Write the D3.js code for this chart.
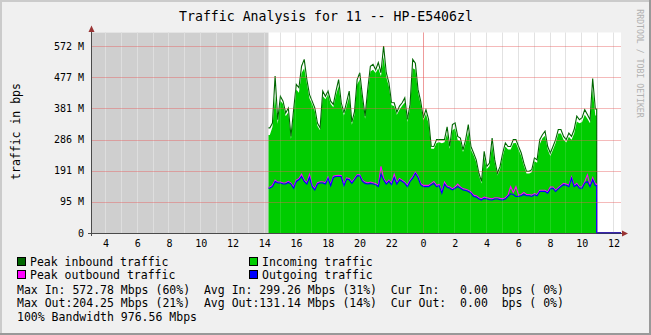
<!DOCTYPE html>
<html><head><meta charset="utf-8">
<script src="https://cdn.jsdelivr.net/npm/d3@7"></script>
<style>
html,body{margin:0;padding:0;background:#f0f0f0;}
svg{display:block;}
text{font-family:"DejaVu Sans Mono",monospace;fill:#000;}
</style></head><body>
<svg id="c" width="651" height="335"></svg>
<script>
// ---------- data ----------
const title = "Traffic Analysis for 11 -- HP-E5406zl";
const yAxisTitle = "traffic in bps";
const watermark = "RRDTOOL / TOBI OETIKER";
const viewStart = new Date(2020, 0, 1, 3, 10);
const viewEnd = new Date(2020, 0, 2, 12, 30);
const dataStart = new Date(2020, 0, 1, 14, 18);
const stepMinutes = 10;

// values in Mbps; last entry is the current sample
const peakIn = [322,337,481,347,419,404,368,383,296,378,
455,445,511,532,470,424,404,383,337,322,
435,419,435,404,394,435,470,399,368,400,
435,340,372,470,491,420,358,440,511,517,
500,522,491,573,491,460,400,399,370,389,
399,414,348,394,532,520,440,404,353,378,
348,266,265,286,286,286,286,325,265,332,
337,296,291,255,286,332,265,245,224,183,
158,250,204,214,291,224,183,204,245,276,
265,265,286,286,265,245,214,189,189,194,
230,224,286,301,312,265,245,265,286,317,
317,296,286,306,296,317,358,347,353,378,
363,347,473,380,0];
const inTraffic = [300,325,420,335,405,395,358,370,288,365,
440,430,490,505,458,412,395,372,328,315,
420,410,425,395,385,422,450,390,360,388,
418,332,362,455,470,410,350,428,495,500,
490,505,480,540,478,448,392,388,362,378,
390,400,340,382,505,500,430,395,345,365,
335,258,258,276,278,275,278,305,258,315,
320,285,282,248,275,310,255,238,216,176,
152,232,196,205,270,215,176,196,235,265,
256,256,275,276,256,236,206,182,182,187,
220,215,272,290,298,256,236,255,276,305,
305,286,277,295,286,305,342,336,340,362,
350,336,440,360,0];
const peakOut = [140,146,162,156,156,153,154,158,153,141,
162,167,180,162,154,180,146,136,154,157,
157,154,172,149,174,176,177,176,149,169,
167,156,167,178,178,162,156,154,156,154,
152,146,204,168,154,162,152,180,154,167,
162,156,146,162,172,186,174,152,146,146,
146,152,158,146,149,126,156,144,141,136,
141,150,141,136,134,131,126,116,114,108,
105,110,108,106,105,108,108,106,105,108,
116,142,124,142,116,118,124,118,118,116,
121,118,131,131,131,126,141,141,131,139,
146,152,150,146,172,146,152,141,141,157,
178,146,170,150,0];
const outTraffic = [137,142,158,153,153,150,150,155,150,137,
158,163,173,158,150,170,142,132,150,153,
153,150,168,145,170,173,173,173,145,165,
163,152,163,175,175,158,152,150,152,150,
148,142,180,163,150,158,148,170,150,163,
158,152,142,158,168,183,170,148,142,142,
142,148,152,142,145,122,150,140,137,132,
137,142,137,132,130,127,122,112,110,104,
101,106,104,102,101,104,104,102,101,104,
112,120,118,112,112,114,118,114,114,112,
117,114,127,127,127,122,135,137,127,135,
142,148,146,142,168,142,148,137,137,153,
158,142,163,145,0];

const yMax = 614.3;
const yTickValues = [0, 95.37, 190.73, 286.10, 381.47, 476.84, 572.20];
const yTickLabels = ["0", "95 M", "191 M", "286 M", "381 M", "477 M", "572 M"];

const legendItems = [
  {label: "Peak inbound traffic", color: "#006600", col: 0, row: 0},
  {label: "Incoming traffic", color: "#00cc00", col: 1, row: 0},
  {label: "Peak outbound traffic", color: "#ff00ff", col: 0, row: 1},
  {label: "Outgoing traffic", color: "#0000ff", col: 1, row: 1}
];
const statsLines = [
  "Max In: 572.78 Mbps (60%)  Avg In: 299.26 Mbps (31%)  Cur In:   0.00  bps ( 0%)",
  "Max Out:204.25 Mbps (21%)  Avg Out:131.14 Mbps (14%)  Cur Out:  0.00  bps ( 0%)",
  "100% Bandwidth 976.56 Mbps"
];

// ---------- layout ----------
const W = 651, H = 335;
const L = 91.7, R = 621, T = 32.5, B = 233;
const svg = d3.select("#c");

const x = d3.scaleTime().domain([viewStart, viewEnd]).range([L, R]);
const y = d3.scaleLinear().domain([0, yMax]).range([B, T]);

// background + shaded border
svg.append("rect").attr("width", W).attr("height", H).attr("fill", "#f0f0f0");
svg.append("rect").attr("x",0).attr("y",0).attr("width",W).attr("height",2).attr("fill","#cbcbcb");
svg.append("rect").attr("x",0).attr("y",0).attr("width",2).attr("height",H).attr("fill","#cbcbcb");
svg.append("rect").attr("x",0).attr("y",H-2).attr("width",W).attr("height",2).attr("fill","#999999");
svg.append("rect").attr("x",W-2).attr("y",0).attr("width",2).attr("height",H).attr("fill","#999999");

// canvas
svg.append("rect").attr("x", L).attr("y", T).attr("width", R - L).attr("height", B - T).attr("fill", "#ffffff");
// unknown region
svg.append("rect").attr("x", L).attr("y", T).attr("width", x(dataStart) - L).attr("height", B - T).attr("fill", "#cfcfcf");

// vertical grid (under data)
const hours = d3.timeHour.range(d3.timeHour.ceil(new Date(+viewStart + 1)), viewEnd);
svg.append("g").selectAll("line").data(hours).join("line")
  .attr("x1", d => Math.round(x(d)) + 0.5).attr("x2", d => Math.round(x(d)) + 0.5)
  .attr("y1", T).attr("y2", B)
  .attr("stroke", d => d.getHours() === 0 ? "#f2b8b8" : (x(d) < x(dataStart) ? "#dadada" : "#dedede"))
  .attr("stroke-width", 1);

// series points: sample centres, with edges at data start/end, then current value to the end
const stepMs = stepMinutes * 60000;
function pts(arr) {
  const n = arr.length - 1; // last entry = current
  const p = [{t: dataStart, v: arr[0]}];
  for (let i = 0; i < n; i++) p.push({t: new Date(+dataStart + (i + 0.5) * stepMs), v: arr[i]});
  const dEnd = new Date(+dataStart + n * stepMs);
  p.push({t: dEnd, v: arr[n - 1]});
  p.push({t: dEnd, v: arr[n]});
  p.push({t: viewEnd, v: arr[n]});
  return p;
}
const area = d3.area().x(d => x(d.t)).y0(y(0)).y1(d => y(d.v));
const line = d3.line().x(d => x(d.t)).y(d => y(d.v));

svg.append("path").attr("d", area(pts(inTraffic))).attr("fill", "#00cc00");
svg.append("path").attr("d", line(pts(peakIn))).attr("fill", "none").attr("stroke", "#006600").attr("stroke-width", 1.1);
svg.append("path").attr("d", line(pts(peakOut))).attr("fill", "none").attr("stroke", "#ff00ff").attr("stroke-width", 1.1);
svg.append("path").attr("d", line(pts(outTraffic))).attr("fill", "none").attr("stroke", "#0000ff").attr("stroke-width", 1.1);

// faint grid over the data
svg.append("g").selectAll("line").data(hours).join("line")
  .attr("x1", d => Math.round(x(d)) + 0.5).attr("x2", d => Math.round(x(d)) + 0.5)
  .attr("y1", T).attr("y2", B)
  .attr("stroke", d => d.getHours() === 0 ? "rgba(230,90,90,0.3)" : "rgba(255,255,255,0.12)")
  .attr("stroke-width", 1);
svg.append("g").selectAll("line").data(yTickValues.slice(1)).join("line")
  .attr("x1", L).attr("x2", R)
  .attr("y1", d => Math.round(y(d)) + 0.5).attr("y2", d => Math.round(y(d)) + 0.5)
  .attr("stroke", "rgba(230,90,90,0.42)").attr("stroke-width", 1);

// axes
const axisColor = "#4a4a4a";
svg.append("line").attr("x1", 88).attr("x2", R + 1).attr("y1", B + 0.5).attr("y2", B + 0.5).attr("stroke", axisColor);
svg.append("line").attr("x1", 91.5).attr("x2", 91.5).attr("y1", 30).attr("y2", B + 3).attr("stroke", axisColor);
// current outgoing (0) drawn along the axis
const tailPts = pts(outTraffic).slice(-2);
svg.append("path").attr("d", line(tailPts)).attr("fill", "none").attr("stroke", "#22228a").attr("stroke-width", 1.2);
// arrows
svg.append("path").attr("d", `M${R+1},${B-2.5} L${R+7},${B+0.5} L${R+1},${B+3.5} Z`).attr("fill", "#993333");
svg.append("path").attr("d", `M88.5,32 L91.5,25.5 L94.5,32 Z`).attr("fill", "#993333");

// y labels
svg.append("g").selectAll("text").data(yTickValues).join("text")
  .attr("x", 84).attr("y", d => y(d) + 3.6)
  .attr("text-anchor", "end").attr("font-size", "10px")
  .text((d, i) => yTickLabels[i]);

// x labels
const labelHours = d3.timeHour.every(2).range(d3.timeHour.ceil(new Date(+viewStart + 1)), viewEnd);
svg.append("g").selectAll("text").data(labelHours).join("text")
  .attr("x", d => x(d) + 1).attr("y", 247)
  .attr("text-anchor", "middle").attr("font-size", "10px")
  .text(d => d3.timeFormat("%-H")(d));

// titles
svg.append("text").attr("x", 326).attr("y", 21).attr("text-anchor", "middle")
  .attr("font-size", "13.2px").text(title);
svg.append("text").attr("transform", "translate(20,131.5) rotate(-90)").attr("text-anchor", "middle")
  .attr("font-size", "11.5px").text(yAxisTitle);
svg.append("text").attr("transform", "translate(637,63.5) rotate(90)").attr("text-anchor", "middle")
  .attr("font-size", "8.2px").style("fill", "#b0b0b0").text(watermark);

// legend
const colX = [17.5, 249.5], rowY = [257.5, 270.5];
const lg = svg.append("g").selectAll("g").data(legendItems).join("g");
lg.append("rect").attr("x", d => colX[d.col]).attr("y", d => rowY[d.row]).attr("width", 8).attr("height", 8)
  .attr("fill", d => d.color).attr("stroke", "#000").attr("stroke-width", 1);
lg.append("text").attr("x", d => colX[d.col] + 12.5).attr("y", d => rowY[d.row] + 8.2)
  .attr("font-size", "11.5px").style("white-space", "pre").text(d => d.label);

svg.append("g").selectAll("text").data(statsLines).join("text")
  .attr("x", 17).attr("y", (d, i) => 293.5 + i * 13.5)
  .attr("font-size", "11.5px").style("white-space", "pre").text(d => d);
</script>
</body></html>
